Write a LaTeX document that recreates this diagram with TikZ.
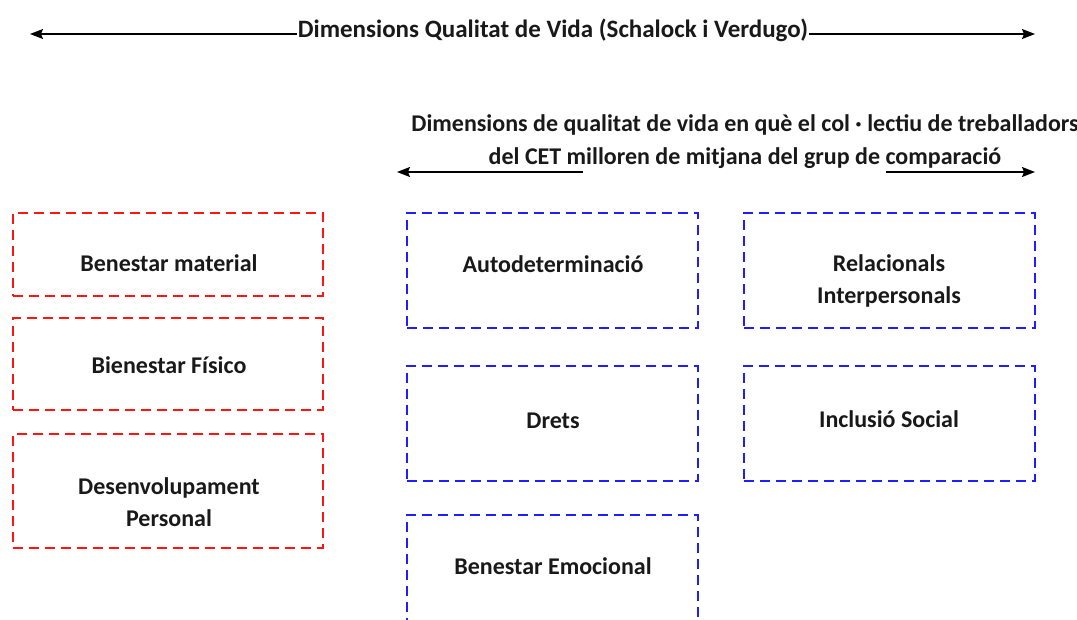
\documentclass[tikz,border=0pt]{standalone}
\usepackage{fontspec}
\setmainfont{Carlito}
\usetikzlibrary{arrows.meta}
\definecolor{boxred}{RGB}{255,20,20}
\definecolor{boxblue}{RGB}{30,30,255}
\begin{document}
\begin{tikzpicture}[x=1pt,y=-1pt,
  lbl/.style={font=\fontsize{24}{32}\selectfont\bfseries, text=black!90, align=center,
    inner sep=0pt, text height=17pt, text depth=0pt},
  redbox/.style={draw=boxred, line width=2pt, dash pattern=on 10pt off 6pt,
    inner sep=0pt, outer sep=0pt, minimum width=310pt},
  bluebox/.style={draw=boxblue, line width=2pt, dash pattern=on 10pt off 6pt,
    inner sep=0pt, outer sep=0pt, minimum width=291pt, minimum height=115pt},
  arr/.style={line width=1.4pt, -{Stealth[length=13pt,width=10pt,inset=2pt]}}]
\clip (0,0) rectangle (1077,619);
\fill[white] (0,0) rectangle (1077,619);

% top title with arrows
\node[lbl, font=\fontsize{25}{32}\selectfont\bfseries] (t1) at (553,29) {Dimensions Qualitat de Vida (Schalock i Verdugo)};
\coordinate (aL) at (30,34);
\coordinate (aR) at (1035,34);
\draw[arr] ([xshift=-1pt]t1.west |- aL) -- (aL);
\draw[arr] ([xshift=1pt]t1.east |- aR) -- (aR);

% second title with arrows
\node[lbl, font=\fontsize{24}{33}\selectfont\bfseries] (t2) at (745,156) {Dimensions de qualitat de vida en què el col · lectiu de treballadors\\del CET milloren de mitjana del grup de comparació};
\coordinate (bLs) at (583,172);
\coordinate (bL) at (397,172);
\coordinate (bRs) at (886,172);
\coordinate (bR) at (1035,172);
\draw[arr] (bLs) -- (bL);
\draw[arr] (bRs) -- (bR);

% red boxes
\node[redbox, minimum height=83pt] (r1) at (168,254.5) {};
\node[redbox, minimum height=92pt] (r2) at (168,364) {};
\node[redbox, minimum height=114pt] (r3) at (168,491) {};
\node[lbl] (r1t) at (169,263) {Benestar material};
\node[lbl] (r2t) at (169,365) {Bienestar Físico};
\node[lbl] (r3t) at (169,518) {Desenvolupament\\Personal};

% blue boxes
\node[bluebox] (b1) at (552.5,270.5) {};
\node[bluebox] (b2) at (889.5,270.5) {};
\node[bluebox] (b3) at (552.5,423) {};
\node[bluebox] (b4) at (889.5,423) {};
\node[bluebox] (b5) at (552.5,572.5) {};
\node[lbl] (b1t) at (553,264) {Autodeterminació};
\node[lbl] (b2t) at (889,295) {Relacionals\\Interpersonals};
\node[lbl] (b3t) at (553,420) {Drets};
\node[lbl] (b4t) at (889,419) {Inclusió Social};
\node[lbl] (b5t) at (553,566) {Benestar Emocional};
\end{tikzpicture}
\end{document}
